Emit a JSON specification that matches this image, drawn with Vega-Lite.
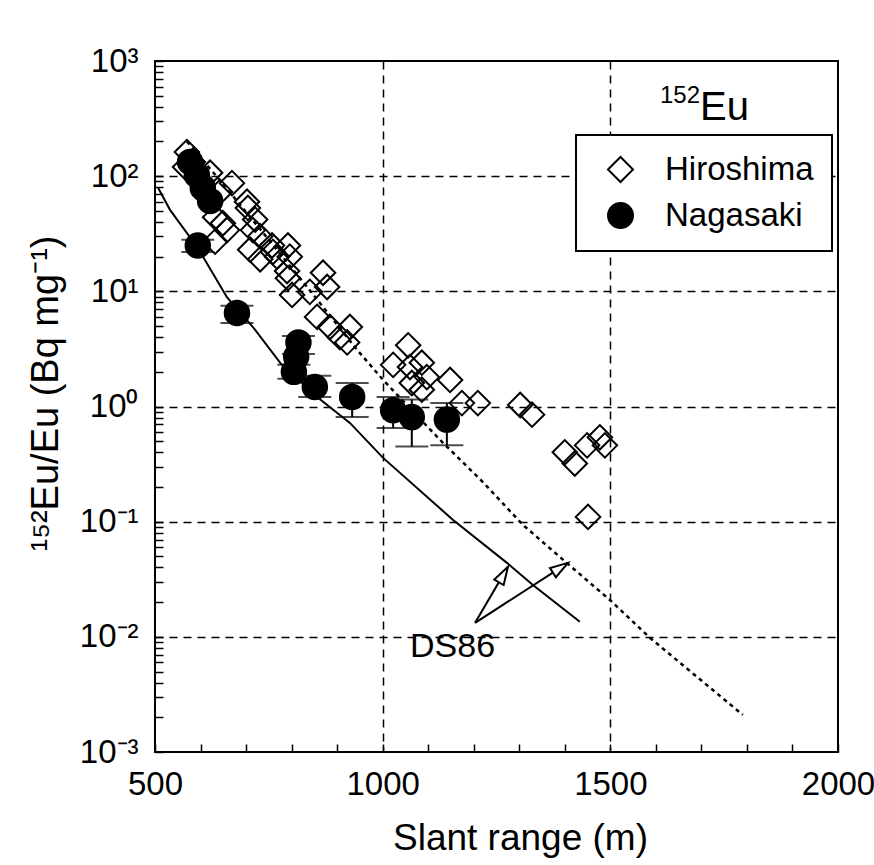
{
  "$schema": "https://vega.github.io/schema/vega-lite/v6.json",
  "autosize": {"type": "none"},
  "padding": {"left": 155, "top": 61, "right": 36, "bottom": 113},
  "width": 683,
  "height": 691,
  "background": "white",
  "datasets": {
    "points": [
      {"site": "Hiroshima", "x": 570, "y": 162},
      {"site": "Hiroshima", "x": 583, "y": 133},
      {"site": "Hiroshima", "x": 566, "y": 120},
      {"site": "Hiroshima", "x": 621, "y": 107},
      {"site": "Hiroshima", "x": 599, "y": 93},
      {"site": "Hiroshima", "x": 669, "y": 87},
      {"site": "Hiroshima", "x": 643, "y": 73},
      {"site": "Hiroshima", "x": 610, "y": 69},
      {"site": "Hiroshima", "x": 702, "y": 60},
      {"site": "Hiroshima", "x": 704, "y": 53},
      {"site": "Hiroshima", "x": 632, "y": 44},
      {"site": "Hiroshima", "x": 649, "y": 39},
      {"site": "Hiroshima", "x": 658, "y": 34},
      {"site": "Hiroshima", "x": 632, "y": 27},
      {"site": "Hiroshima", "x": 720, "y": 42},
      {"site": "Hiroshima", "x": 715, "y": 34},
      {"site": "Hiroshima", "x": 731, "y": 30},
      {"site": "Hiroshima", "x": 709, "y": 23},
      {"site": "Hiroshima", "x": 731, "y": 19},
      {"site": "Hiroshima", "x": 757, "y": 25},
      {"site": "Hiroshima", "x": 759, "y": 22},
      {"site": "Hiroshima", "x": 768, "y": 20},
      {"site": "Hiroshima", "x": 792, "y": 25},
      {"site": "Hiroshima", "x": 796, "y": 20},
      {"site": "Hiroshima", "x": 790, "y": 15},
      {"site": "Hiroshima", "x": 792, "y": 13},
      {"site": "Hiroshima", "x": 869, "y": 14.5},
      {"site": "Hiroshima", "x": 878, "y": 10.9},
      {"site": "Hiroshima", "x": 801, "y": 9.3},
      {"site": "Hiroshima", "x": 840, "y": 9.9},
      {"site": "Hiroshima", "x": 856, "y": 6.0},
      {"site": "Hiroshima", "x": 884, "y": 4.9},
      {"site": "Hiroshima", "x": 928, "y": 4.9},
      {"site": "Hiroshima", "x": 906, "y": 4.0},
      {"site": "Hiroshima", "x": 922, "y": 3.6},
      {"site": "Hiroshima", "x": 1056, "y": 3.4},
      {"site": "Hiroshima", "x": 1023, "y": 2.3},
      {"site": "Hiroshima", "x": 1060, "y": 2.2},
      {"site": "Hiroshima", "x": 1086, "y": 2.4},
      {"site": "Hiroshima", "x": 1064, "y": 1.6},
      {"site": "Hiroshima", "x": 1097, "y": 1.8},
      {"site": "Hiroshima", "x": 1086, "y": 1.4},
      {"site": "Hiroshima", "x": 1148, "y": 1.7},
      {"site": "Hiroshima", "x": 1174, "y": 1.07},
      {"site": "Hiroshima", "x": 1209, "y": 1.07},
      {"site": "Hiroshima", "x": 1302, "y": 1.03},
      {"site": "Hiroshima", "x": 1328, "y": 0.85},
      {"site": "Hiroshima", "x": 1400, "y": 0.40},
      {"site": "Hiroshima", "x": 1422, "y": 0.32},
      {"site": "Hiroshima", "x": 1449, "y": 0.46},
      {"site": "Hiroshima", "x": 1477, "y": 0.54},
      {"site": "Hiroshima", "x": 1488, "y": 0.46},
      {"site": "Hiroshima", "x": 1451, "y": 0.11},
      {"site": "Nagasaki", "x": 577, "y": 133},
      {"site": "Nagasaki", "x": 592, "y": 102},
      {"site": "Nagasaki", "x": 605, "y": 79},
      {"site": "Nagasaki", "x": 621, "y": 61},
      {"site": "Nagasaki", "x": 594, "y": 25},
      {"site": "Nagasaki", "x": 680, "y": 6.5},
      {"site": "Nagasaki", "x": 815, "y": 3.6},
      {"site": "Nagasaki", "x": 810, "y": 2.7},
      {"site": "Nagasaki", "x": 805, "y": 2.0},
      {"site": "Nagasaki", "x": 851, "y": 1.48},
      {"site": "Nagasaki", "x": 933, "y": 1.21},
      {"site": "Nagasaki", "x": 1023, "y": 0.93},
      {"site": "Nagasaki", "x": 1064, "y": 0.81},
      {"site": "Nagasaki", "x": 1141, "y": 0.77}
    ],
    "errors": [
      {"x": 594, "lo": 22, "hi": 28},
      {"x": 680, "lo": 5.3, "hi": 7.5},
      {"x": 815, "lo": 2.86, "hi": 4.1},
      {"x": 805, "lo": 1.74, "hi": 2.3},
      {"x": 851, "lo": 1.21, "hi": 1.85},
      {"x": 933, "lo": 0.81, "hi": 1.6},
      {"x": 1023, "lo": 0.65, "hi": 1.21},
      {"x": 1064, "lo": 0.45, "hi": 1.15},
      {"x": 1141, "lo": 0.46, "hi": 1.07}
    ],
    "ds86n": [
      {"x": 507, "y": 79},
      {"x": 533, "y": 51},
      {"x": 594, "y": 23.8},
      {"x": 658, "y": 8.9},
      {"x": 715, "y": 4.9},
      {"x": 775, "y": 2.39},
      {"x": 856, "y": 1.21},
      {"x": 928, "y": 0.72},
      {"x": 1001, "y": 0.358},
      {"x": 1154, "y": 0.104},
      {"x": 1273, "y": 0.0439},
      {"x": 1330, "y": 0.0282},
      {"x": 1433, "y": 0.0135}
    ],
    "ds86h": [
      {"x": 570, "y": 200},
      {"x": 650, "y": 85},
      {"x": 750, "y": 28},
      {"x": 850, "y": 9.1},
      {"x": 944, "y": 3.1},
      {"x": 1001, "y": 1.70},
      {"x": 1126, "y": 0.513},
      {"x": 1220, "y": 0.221},
      {"x": 1308, "y": 0.0938},
      {"x": 1389, "y": 0.0494},
      {"x": 1499, "y": 0.0209},
      {"x": 1587, "y": 0.0098},
      {"x": 1791, "y": 0.0021}
    ],
    "arrows": [
      {"x": 1203, "y": 0.01324, "x2": 1275, "y2": 0.0405},
      {"x": 1203, "y": 0.01324, "x2": 1407, "y2": 0.0438}
    ]
  },
  "layer": [
    {
      "data": {"name": "ds86n"},
      "mark": {"type": "line", "color": "black", "strokeWidth": 2},
      "encoding": {
        "x": {
          "field": "x", "type": "quantitative",
          "scale": {"domain": [500, 2000], "nice": false, "zero": false},
          "axis": {
            "title": "Slant range (m)",
            "values": [500, 600, 700, 800, 900, 1000, 1100, 1200, 1300, 1400, 1500, 1600, 1700, 1800, 1900, 2000],
            "format": "d",
            "labelExpr": "datum.value % 500 == 0 ? datum.label : ''",
            "labelFontSize": 33,
            "labelPadding": 24,
            "labelFlush": false,
            "labelOverlap": false,
            "ticks": true,
            "tickSize": -8,
            "tickColor": "black",
            "tickWidth": 1.5,
            "titleFontSize": 37,
            "titleX": 365,
            "titleY": 97,
            "titleBaseline": "alphabetic",
            "grid": true,
            "gridColor": "black",
            "gridDash": [8, 6],
            "gridWidth": 1.5,
            "gridOpacity": {"condition": {"test": "datum.value == 1000 || datum.value == 1500", "value": 1}, "value": 0}
          }
        },
        "y": {
          "field": "y", "type": "quantitative",
          "scale": {"type": "log", "domain": [0.001, 1000], "nice": false},
          "axis": {
            "title": "¹⁵²Eu/Eu (Bq mg⁻¹)",
            "values": [0.001, 0.002, 0.003, 0.004, 0.005, 0.006, 0.007, 0.008, 0.009, 0.01, 0.02, 0.03, 0.04, 0.05, 0.06, 0.07, 0.08, 0.09, 0.1, 0.2, 0.3, 0.4, 0.5, 0.6, 0.7, 0.8, 0.9, 1, 2, 3, 4, 5, 6, 7, 8, 9, 10, 20, 30, 40, 50, 60, 70, 80, 90, 100, 200, 300, 400, 500, 600, 700, 800, 900, 1000],
            "labelExpr": "datum.value == 1000 ? '10³' : datum.value == 100 ? '10²' : datum.value == 10 ? '10¹' : datum.value == 1 ? '10⁰' : datum.value == 0.1 ? '10⁻¹' : datum.value == 0.01 ? '10⁻²' : datum.value == 0.001 ? '10⁻³' : ''",
            "labelFontSize": 33,
            "labelPadding": 25,
            "labelFlush": false,
            "labelOverlap": false,
            "ticks": true,
            "tickSize": -8,
            "tickColor": "black",
            "tickWidth": 1.5,
            "titleFontSize": 38,
            "titleAngle": 270,
            "titleX": -98,
            "titleY": 332,
            "titleAlign": "center",
            "titleBaseline": "alphabetic",
            "grid": true,
            "gridColor": "black",
            "gridDash": [8, 6],
            "gridWidth": 1.5,
            "gridOpacity": {"condition": {"test": "datum.value == 0.01 || datum.value == 0.1 || datum.value == 1 || datum.value == 10 || datum.value == 100", "value": 1}, "value": 0}
          }
        }
      }
    },
    {
      "data": {"name": "ds86h"},
      "mark": {"type": "line", "color": "black", "strokeWidth": 2.5, "strokeDash": [4, 4]},
      "encoding": {
        "x": {"field": "x", "type": "quantitative"},
        "y": {"field": "y", "type": "quantitative"}
      }
    },
    {
      "data": {"name": "errors"},
      "mark": {"type": "rule", "color": "black", "strokeWidth": 2},
      "encoding": {
        "x": {"field": "x", "type": "quantitative"},
        "y": {"field": "lo", "type": "quantitative"},
        "y2": {"field": "hi"}
      }
    },
    {
      "data": {"name": "errors"},
      "mark": {"type": "tick", "orient": "horizontal", "color": "black", "size": 33, "thickness": 2},
      "encoding": {
        "x": {"field": "x", "type": "quantitative"},
        "y": {"field": "lo", "type": "quantitative"}
      }
    },
    {
      "data": {"name": "errors"},
      "mark": {"type": "tick", "orient": "horizontal", "color": "black", "size": 33, "thickness": 2},
      "encoding": {
        "x": {"field": "x", "type": "quantitative"},
        "y": {"field": "hi", "type": "quantitative"}
      }
    },
    {
      "data": {"name": "points"},
      "mark": {"type": "point", "filled": true, "strokeWidth": 2, "size": 600, "opacity": 1},
      "encoding": {
        "x": {"field": "x", "type": "quantitative"},
        "y": {"field": "y", "type": "quantitative"},
        "shape": {
          "field": "site", "type": "nominal",
          "scale": {"domain": ["Hiroshima", "Nagasaki"], "range": ["diamond", "circle"]},
          "legend": {
            "title": null, "orient": "none", "legendX": 421, "legendY": 74,
            "padding": 18, "labelFontSize": 33, "labelFont": "Liberation Sans", "labelColor": "black",
            "symbolSize": 625, "symbolStrokeWidth": 2,
            "symbolOffset": 10, "labelOffset": 28, "rowPadding": 12,
            "fillColor": "white", "strokeColor": "black"
          }
        },
        "fill": {
          "field": "site", "type": "nominal",
          "scale": {"domain": ["Hiroshima", "Nagasaki"], "range": ["transparent", "black"]},
          "legend": {
            "title": null, "orient": "none", "legendX": 421, "legendY": 74,
            "padding": 18, "labelFontSize": 33, "labelFont": "Liberation Sans", "labelColor": "black",
            "symbolSize": 625, "symbolStrokeWidth": 2,
            "symbolOffset": 10, "labelOffset": 28, "rowPadding": 12,
            "fillColor": "white", "strokeColor": "black"
          }
        },
        "stroke": {
          "field": "site", "type": "nominal",
          "scale": {"domain": ["Hiroshima", "Nagasaki"], "range": ["black", "black"]},
          "legend": {
            "title": null, "orient": "none", "legendX": 421, "legendY": 74,
            "padding": 18, "labelFontSize": 33, "labelFont": "Liberation Sans", "labelColor": "black",
            "symbolSize": 625, "symbolStrokeWidth": 2,
            "symbolOffset": 10, "labelOffset": 28, "rowPadding": 12,
            "fillColor": "white", "strokeColor": "black"
          }
        }
      }
    },
    {
      "data": {"name": "arrows"},
      "mark": {"type": "rule", "color": "black", "strokeWidth": 2},
      "encoding": {
        "x": {"field": "x", "type": "quantitative"},
        "y": {"field": "y", "type": "quantitative"},
        "x2": {"field": "x2"},
        "y2": {"field": "y2"}
      }
    },
    {
      "data": {"values": [{"x": 1262, "y": 0.033}]},
      "mark": {"type": "point", "shape": "M0,-1L0.45,0.5L-0.45,0.5Z", "size": 576, "angle": 30, "filled": true, "fill": "white", "stroke": "black", "strokeWidth": 2, "opacity": 1},
      "encoding": {
        "x": {"field": "x", "type": "quantitative"},
        "y": {"field": "y", "type": "quantitative"}
      }
    },
    {
      "data": {"values": [{"x": 1385, "y": 0.0385}]},
      "mark": {"type": "point", "shape": "M0,-1L0.45,0.5L-0.45,0.5Z", "size": 576, "angle": 57, "filled": true, "fill": "white", "stroke": "black", "strokeWidth": 2, "opacity": 1},
      "encoding": {
        "x": {"field": "x", "type": "quantitative"},
        "y": {"field": "y", "type": "quantitative"}
      }
    },
    {
      "data": {"values": [{"x": 1060, "y": 0.0067, "label": "DS86"}]},
      "mark": {"type": "text", "font": "Liberation Sans", "fontSize": 34, "align": "left", "baseline": "alphabetic", "color": "black"},
      "encoding": {
        "x": {"field": "x", "type": "quantitative"},
        "y": {"field": "y", "type": "quantitative"},
        "text": {"field": "label"}
      }
    },
    {
      "data": {"values": [{"x": 1697, "y": 431, "label": "152"}]},
      "mark": {"type": "text", "font": "Liberation Sans", "fontSize": 24, "align": "right", "baseline": "alphabetic", "color": "black"},
      "encoding": {
        "x": {"field": "x", "type": "quantitative"},
        "y": {"field": "y", "type": "quantitative"},
        "text": {"field": "label"}
      }
    },
    {
      "data": {"values": [{"x": 1697, "y": 308, "label": "Eu"}]},
      "mark": {"type": "text", "font": "Liberation Sans", "fontSize": 40, "align": "left", "baseline": "alphabetic", "color": "black"},
      "encoding": {
        "x": {"field": "x", "type": "quantitative"},
        "y": {"field": "y", "type": "quantitative"},
        "text": {"field": "label"}
      }
    }
  ],
  "config": {
    "view": {"stroke": "black", "strokeWidth": 2},
    "axis": {
      "labelFont": "Liberation Sans",
      "titleFont": "Liberation Sans",
      "labelColor": "black",
      "titleColor": "black",
      "titleFontWeight": "normal",
      "domain": false
    },
    "legend": {"strokeWidth": 2}
  }
}
